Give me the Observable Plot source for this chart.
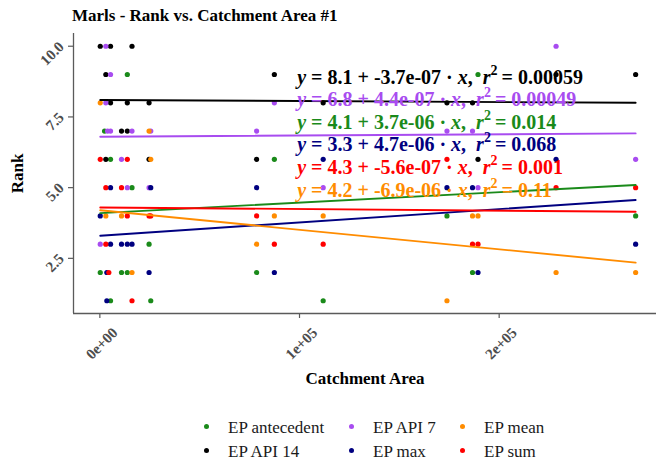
<!DOCTYPE html>
<html><head><meta charset="utf-8">
<script src="https://cdn.jsdelivr.net/npm/d3@7"></script>
<script src="https://cdn.jsdelivr.net/npm/@observablehq/plot@0.6"></script>
<style>
body{margin:0;background:#fff;}
#wrap{position:relative;width:657px;height:466px;overflow:hidden;font-family:"Liberation Serif","Times New Roman",serif;background:#fff;}
#title{position:absolute;left:72px;top:7px;font-size:17px;line-height:17px;font-weight:bold;color:#000;white-space:nowrap;}
#chart{position:absolute;left:0;top:28px;}
.leg{position:absolute;font-size:17px;line-height:17px;color:#1a1a1a;white-space:nowrap;}
.dot{position:absolute;width:5px;height:5px;border-radius:50%;}
</style></head><body>
<div id="wrap"><div id="title">Marls - Rank vs. Catchment Area #1</div><div id="chart"></div></div>
<script>
// ---- data ----
const seriesNames = ["EP antecedent", "EP API 14", "EP API 7", "EP max", "EP mean", "EP sum"];

const antecedentArea = [13750, 189400, 2350, 5350, 87400, 16100, 173850, 268350, 24650, 200, 10850, 13750, 78500, 186650, 5350, 25500, 111850];
const antecedentRank = [9, 9, 7, 6, 6, 5, 4, 4, 3, 2, 2, 2, 2, 2, 1, 1, 1];

const api14Area = [200, 5350, 16100, 3000, 87400, 228500, 268350, 5350, 13750, 24650, 111850, 173850, 186650, 10850, 13750, 3000, 24650, 78500, 189400];
const api14Rank = [10, 10, 10, 9, 9, 9, 9, 8, 8, 8, 8, 8, 8, 7, 7, 6, 6, 6, 6];

const api7Area = [3000, 228500, 5350, 3000, 87400, 3850, 5350, 16100, 25500, 78500, 173850, 186650, 10850, 268350, 13750, 24650, 111850, 189400, 200];
const api7Rank = [10, 10, 9, 8, 8, 7, 7, 7, 7, 7, 7, 7, 6, 6, 5, 5, 5, 5, 3];

const maxArea = [111850, 228500, 5350, 25500, 78500, 173850, 186650, 200, 5350, 10850, 13750, 16100, 268350, 3500, 24650, 87400, 189400, 3500];
const maxRank = [6, 6, 5, 5, 5, 5, 5, 4, 3, 3, 3, 3, 3, 2, 2, 2, 2, 1];

const meanArea = [200, 24650, 25500, 3000, 10850, 87400, 111850, 186650, 189400, 78500, 16100, 228500, 268350, 173850];
const meanRank = [8, 7, 6, 4, 4, 4, 4, 4, 4, 3, 2, 2, 2, 1];

const sumArea = [200, 13750, 173850, 3000, 10850, 228500, 268350, 13750, 24650, 25500, 78500, 3000, 87400, 111850, 186650, 189400, 4500, 16100];
const sumRank = [6, 6, 6, 5, 5, 5, 5, 4, 4, 4, 4, 3, 3, 3, 3, 3, 2, 1];

// regression equations as printed (series order as seriesNames)
const eqIntercept = ["4.1", "8.1", "6.8", "3.3", "4.2", "4.3"];
const eqSlope = ["3.7e-06", "-3.7e-07", "4.4e-07", "4.7e-06", "-6.9e-06", "-5.6e-07"];
const eqR2 = ["0.014", "0.00059", "0.00049", "0.068", "0.11", "0.001"];
const eqOrder = ["EP API 14", "EP API 7", "EP antecedent", "EP max", "EP sum", "EP mean"];

const xTicks = [0, 100000, 200000];
const xTickLabels = ["0e+00", "1e+05", "2e+05"];
const yTicks = [2.5, 5, 7.5, 10];
const yTickLabels = ["2.5", "5.0", "7.5", "10.0"];

// ---- styles ----
const palette = ["#1a8a1a", "#000000", "#a84cf0", "#000080", "#ff8c00", "#ff0000"];
const axisGray = "#5a5a5a";
const tickTextColor = "#4d4d4d";

const seriesArea = [antecedentArea, api14Area, api7Area, maxArea, meanArea, sumArea];
const seriesRank = [antecedentRank, api14Rank, api7Rank, maxRank, meanRank, sumRank];

const points = [];
seriesNames.forEach((s, k) => {
  seriesArea[k].forEach((a, i) => points.push({series: s, area: a, rank: seriesRank[k][i], color: palette[k]}));
});

const lines = [];
seriesNames.forEach((s, k) => {
  const [x0, x1] = d3.extent(seriesArea[k]);
  const b = +eqIntercept[k], m = +eqSlope[k];
  lines.push({series: s, area: x0, rank: b + m * x0, color: palette[k]});
  lines.push({series: s, area: x1, rank: b + m * x1, color: palette[k]});
});

const xDomain = [-13200, 278800];
const yDomain = [0.55, 10.45];

const eqMarks = eqOrder.map((s, i) => Plot.text([s], {
  text: d => d,
  frameAnchor: "top-left",
  textAnchor: "start",
  lineAnchor: "bottom",
  dx: 223.7,
  dy: 50 + i * 22.6,
  fill: palette[seriesNames.indexOf(s)],
  fontSize: 20,
  fontWeight: "bold",
  className: "eq"
}));

const chart = Plot.plot({
  width: 657,
  height: 372,
  marginLeft: 73,
  marginRight: 1,
  marginTop: 5,
  marginBottom: 87,
  x: {domain: xDomain, axis: null},
  y: {domain: yDomain, axis: null},
  color: {type: "identity"},
  style: {fontFamily: "'Liberation Serif', 'Times New Roman', serif", background: "white", overflow: "visible"},
  marks: [
    Plot.axisX({ticks: xTicks, tickSize: 5, stroke: axisGray, strokeWidth: 1.2, fill: "none", label: null}),
    Plot.axisY({ticks: yTicks, tickSize: 5, stroke: axisGray, strokeWidth: 1.2, fill: "none", label: null}),
    Plot.ruleY([yDomain[0]], {stroke: axisGray, strokeWidth: 1.3}),
    Plot.ruleX([xDomain[0]], {stroke: axisGray, strokeWidth: 1.3}),
    Plot.text(xTicks, {x: d => d, text: (d, i) => xTickLabels[i], frameAnchor: "bottom", textAnchor: "middle", lineAnchor: "middle", rotate: -45, dx: 2, dy: 30, fontSize: 15, fontWeight: "bold", fill: tickTextColor}),
    Plot.text(yTicks, {y: d => d, text: (d, i) => yTickLabels[i], frameAnchor: "left", textAnchor: "end", lineAnchor: "middle", rotate: -45, dx: -12, dy: -2, fontSize: 15, fontWeight: "bold", fill: tickTextColor}),
    Plot.text(["Catchment Area"], {frameAnchor: "bottom", textAnchor: "middle", lineAnchor: "bottom", dy: 70, fontSize: 17, fontWeight: "bold", fill: "#000"}),
    Plot.text(["Rank"], {frameAnchor: "left", textAnchor: "middle", lineAnchor: "middle", rotate: -90, dx: -55.5, fontSize: 17, fontWeight: "bold", fill: "#000"}),
    Plot.dot(points, {x: "area", y: "rank", fill: "color", r: 2.6, stroke: "none"}),
    Plot.line(lines, {x: "area", y: "rank", z: "series", stroke: "color", strokeWidth: 1.9}),
    ...eqMarks
  ]
});

document.getElementById("chart").appendChild(chart);

// rebuild equation texts with italic symbols and superscript
d3.select(chart).selectAll("g.eq text").each(function () {
  const k = seriesNames.indexOf(this.textContent);
  const t = d3.select(this);
  t.text(null);
  t.append("tspan").attr("font-style", "italic").text("y");
  t.append("tspan").text(" = " + eqIntercept[k] + " + " + eqSlope[k] + " \u00B7 ");
  t.append("tspan").attr("font-style", "italic").text("x");
  t.append("tspan").text(",\u2002");
  t.append("tspan").attr("font-style", "italic").text("r");
  t.append("tspan").attr("dy", -9).attr("font-size", 14).text("2");
  t.append("tspan").attr("dy", 9).text("\u2009= " + eqR2[k]);
});

// legend
const wrap = document.getElementById("wrap");
const legCols = [[206.7, 228], [351.7, 373], [462.7, 484]];
const legRows = [426.7, 450.7];
const legendOrder = [["EP antecedent", "EP API 7", "EP mean"], ["EP API 14", "EP max", "EP sum"]];
legendOrder.forEach((row, r) => row.forEach((s, c) => {
  const dot = document.createElement("div");
  dot.className = "dot";
  dot.style.left = (legCols[c][0] - 2.5) + "px";
  dot.style.top = (legRows[r] - 2.5) + "px";
  dot.style.background = palette[seriesNames.indexOf(s)];
  wrap.appendChild(dot);
  const lab = document.createElement("div");
  lab.className = "leg";
  lab.style.left = legCols[c][1] + "px";
  lab.style.top = (legRows[r] - 8) + "px";
  lab.textContent = s;
  wrap.appendChild(lab);
}));
</script>
</body></html>
